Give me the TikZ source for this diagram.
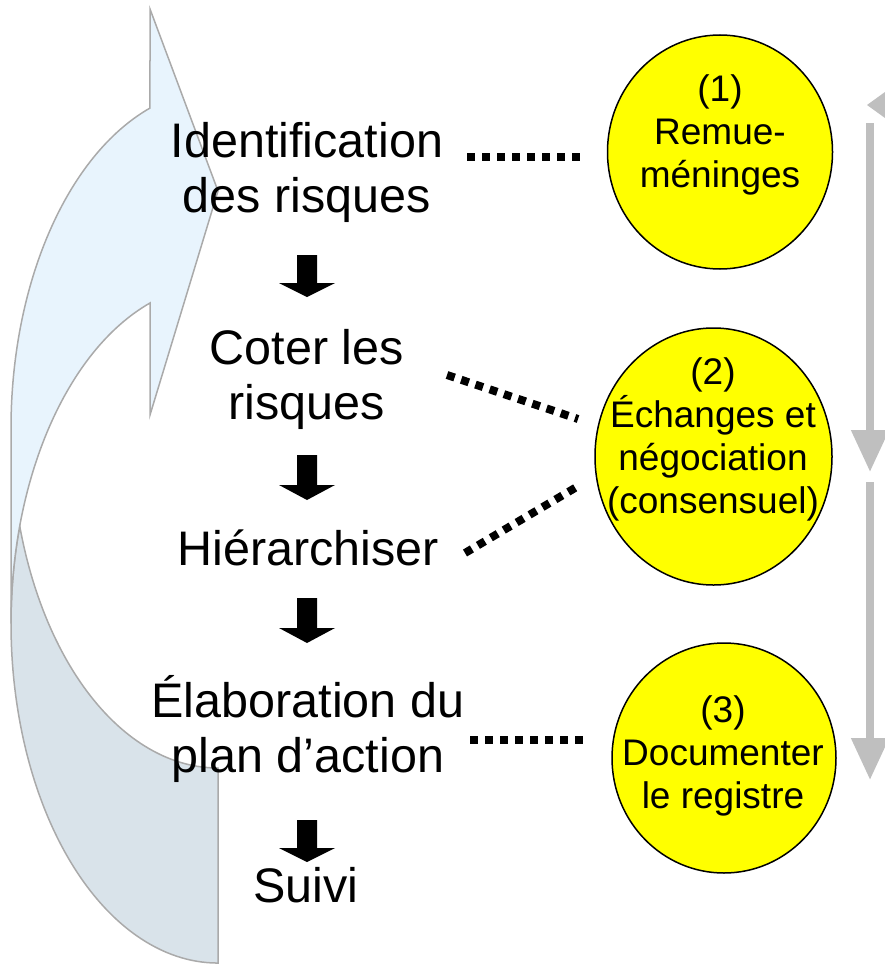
\documentclass[tikz,border=0pt]{standalone}
\usepackage{fontspec}
\setmainfont{Liberation Sans}
\usetikzlibrary{shapes.geometric,arrows.meta}
\definecolor{bandlight}{RGB}{232,244,253}
\definecolor{banddark}{RGB}{217,227,234}
\definecolor{bandline}{RGB}{170,170,170}
\definecolor{bubfill}{RGB}{255,255,0}
\definecolor{flowgray}{RGB}{191,191,191}
\tikzset{
  bandedge/.style={draw=bandline, line width=1.5pt, line join=miter},
  maintext/.style={font=\fontsize{48.5}{55}\selectfont, align=center, inner sep=0pt},
  bubble/.style={ellipse, draw=black, fill=bubfill, line width=1.5pt, inner sep=0pt},
  bubtext/.style={font=\fontsize{37}{43}\selectfont, align=center, inner sep=0pt},
  dotline/.style={line width=8pt, dash pattern=on 8pt off 7pt, black},
  grayflow/.style={line width=8pt, flowgray, -{Triangle[length=42pt,width=36pt]}},
  blockarrow/.style={fill=black}
}
\begin{document}
\begin{tikzpicture}[x=1pt,y=-1pt]
\useasboundingbox (0,0) rectangle (885,966);
% curved arrow: back part
\path[bandedge, fill=banddark]
  (218,768) arc[start angle=90, end angle=163.3, x radius=207, y radius=339.4]
  arc[start angle=196.7, end angle=90, x radius=207, y radius=339.4]
  -- cycle;
% curved arrow: front part
\path[bandedge, fill=bandlight]
  (11,428.6) arc[start angle=180, end angle=250.82, x radius=207, y radius=339.4]
  -- (150,9) -- (218,191) -- (150,415) -- (150,303)
  arc[start angle=250.82, end angle=180, x radius=207, y radius=339.4]
  -- cycle;

% main steps
\node[maintext] (ident) at (307,172) {Identification\\des risques};
\node[maintext] (coter) at (307,379) {Coter les\\risques};
\node[maintext, anchor=base] (hier) at (308,565) {Hiérarchiser};
\node[maintext] (elab) at (308,728.5) {Élaboration du\\plan d’action};
\node[maintext, anchor=base] (suivi) at (306,902) {Suivi};

% block arrows between the steps
\foreach \t/\b/\p in {255/283/297, 455/485/500, 598/628/643, 820/848/862}
  \path[blockarrow] (297,\t) -- (317,\t) -- (317,\b) -- (335,\b) -- (307,\p)
     -- (279,\b) -- (297,\b) -- cycle;

% bubbles
\node[bubble, minimum width=225pt, minimum height=234pt] (c1) at (720,152) {};
\node[bubtext] (t1) at (720,135) {(1)\\Remue-\\méninges};
\node[bubble, minimum width=237pt, minimum height=257pt] (c2) at (713.5,456.5) {};
\node[bubtext] (t2) at (713,439.5) {(2)\\Échanges et\\négociation\\(consensuel)};
\node[bubble, minimum width=224pt, minimum height=230pt] (c3) at (724,758) {};
\node[bubtext] (t3) at (723,756) {(3)\\Documenter\\le registre};

% dotted links
\coordinate (d1a) at (467,157); \coordinate (d1b) at (580,157);
\coordinate (d2a) at (447,375); \coordinate (d2b) at (578,419);
\coordinate (d3a) at (465,553); \coordinate (d3b) at (580,485);
\coordinate (d4a) at (470,740); \coordinate (d4b) at (586,740);
\draw[dotline] (d1a) -- (d1b);
\draw[dotline] (d2a) -- (d2b);
\draw[dotline] (d3a) -- (d3b);
\draw[dotline] (d4a) -- (d4b);

% gray arrows on the right
\coordinate (g1a) at (870,123); \coordinate (g1b) at (870,472);
\coordinate (g2a) at (870,482); \coordinate (g2b) at (870,780);
\draw[grayflow] (g1a) -- (g1b);
\draw[grayflow] (g2a) -- (g2b);
\fill[flowgray] (867,105) -- (885,92) -- (885,118) -- cycle;
\end{tikzpicture}
\end{document}
